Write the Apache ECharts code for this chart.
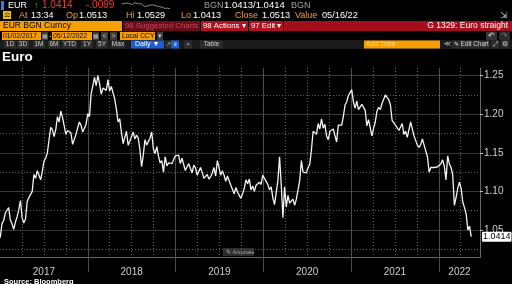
<!DOCTYPE html>
<html>
<head>
<meta charset="utf-8">
<script src="https://cdn.jsdelivr.net/npm/echarts@6/dist/echarts.min.js"></script>
<style>
html, body { margin: 0; padding: 0; background: #000; }
#main { width: 512px; height: 284px; }
</style>
</head>
<body>
<div id="main"></div>
<script>
// EUR/USD, one value per week (Mondays from 2017-01-02)
var eur2017 = [1.040, 1.058, 1.062, 1.072, 1.074, 1.079, 1.063, 1.058, 1.051, 1.060, 1.067, 1.076, 1.088,
  1.066, 1.059, 1.064, 1.087, 1.092, 1.094, 1.100, 1.122, 1.117, 1.127, 1.121, 1.115, 1.126,
  1.139, 1.143, 1.150, 1.167, 1.183, 1.180, 1.171, 1.180, 1.197, 1.190, 1.204, 1.196, 1.185,
  1.174, 1.179, 1.179, 1.176, 1.161, 1.160, 1.174, 1.173, 1.190, 1.186, 1.177, 1.182, 1.187];
var eur2018 = [1.201, 1.197, 1.226, 1.226, 1.248, 1.237, 1.250, 1.240, 1.226, 1.234, 1.234, 1.231, 1.245,
  1.230, 1.236, 1.238, 1.220, 1.207, 1.190, 1.194, 1.177, 1.162, 1.170, 1.178, 1.160, 1.165,
  1.164, 1.177, 1.168, 1.173, 1.169, 1.154, 1.132, 1.147, 1.167, 1.160, 1.160, 1.169, 1.177,
  1.155, 1.149, 1.158, 1.146, 1.137, 1.140, 1.125, 1.145, 1.133, 1.137, 1.135, 1.136, 1.141, 1.146];
var eur2019 = [1.147, 1.147, 1.136, 1.143, 1.141, 1.127, 1.132, 1.136, 1.134, 1.124, 1.134, 1.131,
  1.121, 1.126, 1.131, 1.125, 1.117, 1.119, 1.122, 1.116, 1.119, 1.124, 1.131, 1.120, 1.140,
  1.131, 1.121, 1.127, 1.121, 1.113, 1.120, 1.118, 1.108, 1.109, 1.097, 1.105, 1.099, 1.098,
  1.091, 1.097, 1.104, 1.115, 1.110, 1.116, 1.102, 1.107, 1.100, 1.108, 1.106, 1.112, 1.109, 1.121];
var eur2020 = [1.117, 1.113, 1.109, 1.102, 1.106, 1.092, 1.083, 1.085, 1.114, 1.145, 1.109, 1.066,
  1.106, 1.080, 1.095, 1.085, 1.083, 1.090, 1.082, 1.090, 1.091, 1.114, 1.140, 1.125, 1.126,
  1.124, 1.131, 1.135, 1.154, 1.178, 1.176, 1.174, 1.188, 1.181, 1.194, 1.182, 1.187, 1.172,
  1.167, 1.178, 1.180, 1.181, 1.181, 1.164, 1.186, 1.187, 1.186, 1.197, 1.212, 1.216, 1.224, 1.222];
var eur2021 = [1.232, 1.216, 1.208, 1.217, 1.206, 1.205, 1.213, 1.215, 1.205, 1.185, 1.193, 1.194,
  1.172, 1.182, 1.190, 1.204, 1.209, 1.206, 1.214, 1.215, 1.225, 1.222, 1.219, 1.212, 1.192,
  1.190, 1.186, 1.187, 1.179, 1.180, 1.188, 1.174, 1.178, 1.170, 1.180, 1.190, 1.181, 1.172,
  1.171, 1.160, 1.157, 1.161, 1.168, 1.160, 1.159, 1.145, 1.125, 1.131, 1.130, 1.131, 1.133, 1.132];
var eur2022 = [1.130, 1.136, 1.141, 1.133, 1.115, 1.146, 1.136, 1.131, 1.122, 1.082, 1.092, 1.104,
  1.112, 1.104, 1.086, 1.079, 1.071, 1.050, 1.055, 1.0414];

var yearLabels = ['2017', '2018', '2019', '2020', '2021', '2022'];
var yearLabelPos = [2017.5, 2018.5, 2019.5, 2020.5, 2021.5, 2022.236];
var yearBreaks = [2018, 2019, 2020, 2021, 2022];
var priceTicks = [1.05, 1.10, 1.15, 1.20, 1.25];
var priceMinor = [1.025, 1.075, 1.125, 1.175, 1.225];
var lastPrice = 1.0414;

var weekly = [].concat(eur2017, eur2018, eur2019, eur2020, eur2021, eur2022);
var t0 = Date.UTC(2017, 0, 2);
function decYear(ms) {
  var y = new Date(ms).getUTCFullYear();
  var s = Date.UTC(y, 0, 1), e = Date.UTC(y + 1, 0, 1);
  return y + (ms - s) / (e - s);
}
var lineData = weekly.map(function (v, i) { return [decYear(t0 + i * 7 * 864e5), v]; });

var XMIN = 2017, XMAX = 2022.47, YMIN = 1.015, YMAX = 1.26;
var ORANGE = '#f5a000', LBL = '#f0a030';
var SANS = '"Liberation Sans", Arial, sans-serif';

var gfx = [];
function box(x, y, w, h, c) {
  gfx.push({ type: 'rect', shape: { x: x, y: y, width: w, height: h }, style: { fill: c }, silent: true });
}
function txt(x, y, s, c, size, align, weight) {
  gfx.push({ type: 'text', silent: true, style: {
    x: x, y: y, text: s, fill: c, textAlign: align || 'left', verticalAlign: 'middle',
    font: (weight || 'normal') + ' ' + size + 'px ' + SANS } });
}

// row 1: quote line
box(1, 1, 3, 9, '#2f7dff');
txt(8, 5.5, 'EUR', '#fff', 9);
txt(34, 5.5, '↑', '#22c822', 9, 'left', 'bold');
txt(42, 5.5, '1.0414', '#f03a30', 10);
txt(86, 5.5, '-.0099', '#f03a30', 10);
txt(204, 5.5, 'BGN', '#a0a0a0', 9);
txt(224, 5.5, '1.0413/1.0414', '#fff', 9.5);
txt(291, 5.5, 'BGN', '#a0a0a0', 9);

// row 2: OHLC
box(3, 11, 8, 8, '#f0c20a');
txt(7, 15.5, '⚖', '#000', 7, 'center');
txt(19, 15.5, 'At', LBL, 9); txt(31, 15.5, '13:34', '#fff', 9);
txt(66, 15.5, 'Op', LBL, 9); txt(79, 15.5, '1.0513', '#fff', 9.2);
txt(126, 15.5, 'Hi', LBL, 9); txt(137, 15.5, '1.0529', '#fff', 9.2);
txt(181, 15.5, 'Lo', LBL, 9); txt(193, 15.5, '1.0413', '#fff', 9.2);
txt(235, 15.5, 'Close', LBL, 9); txt(262, 15.5, '1.0513', '#fff', 9.2);
txt(295, 15.5, 'Value', LBL, 9); txt(322, 15.5, '05/16/22', '#fff', 9.2);
txt(504, 16, '⇲', '#ccc', 9, 'center');

// row 3: security / menus
box(0, 21, 122, 10, ORANGE); txt(3, 26, 'EUR BGN Curncy', '#000', 8.5);
box(123, 21, 77, 10, '#6b0d16'); txt(125, 26, '98 Suggested Charts', '#c0485a', 7.8);
box(201, 21, 47, 10, '#b0121f'); txt(203, 26, '98 Actions ▾', '#fff', 7.8);
box(249, 21, 34, 10, '#b0121f'); txt(251, 26, '97 Edit ▾', '#fff', 7.8);
box(284, 21, 228, 10, '#a50e1c'); txt(508, 26, 'G 1329: Euro straight', '#fff', 8.5, 'right');

// row 4: date range
box(2, 32, 39, 8, ORANGE); txt(3, 36, '01/02/2017', '#000', 6.8);
box(42, 32, 6, 8, '#3a3a3a'); txt(45, 36, '▦', '#bbb', 6, 'center');
txt(49, 36, '-', '#ccc', 7);
box(52, 32, 40, 8, ORANGE); txt(53, 36, '05/12/2022', '#000', 6.8);
box(93, 32, 6, 8, '#3a3a3a'); txt(96, 36, '▦', '#bbb', 6, 'center');
box(101, 32, 7, 8, '#3a3a3a'); txt(104.5, 36, '<', '#ccc', 7, 'center');
box(110, 32, 7, 8, '#3a3a3a'); txt(113.5, 36, '>', '#ccc', 7, 'center');
box(120, 32, 35, 8, ORANGE); txt(122, 36, 'Local CCY', '#000', 6.8);
box(157, 32, 6, 8, '#3a3a3a'); txt(160, 36, '▾', '#ccc', 7, 'center');
box(486, 32, 11, 8, '#333'); txt(491.5, 36, '↶', '#ddd', 8, 'center');
box(499, 32, 11, 8, '#2a2a2a'); txt(504.5, 36, '↷', '#777', 8, 'center');

// row 5: toolbar
box(0, 40, 512, 9, '#1a1a1a');
[['1D', 4, 12], ['3D', 17, 12], ['1M', 33, 12], ['6M', 48, 12], ['YTD', 62, 15],
 ['1Y', 81, 12], ['5Y', 96, 12], ['Max', 111, 14]].forEach(function (b) {
  box(b[1], 40.5, b[2], 8, '#2c2c2c'); txt(b[1] + b[2] / 2, 44.5, b[0], '#d0d0d0', 6.5, 'center');
});
box(131, 40.5, 33, 8, '#1d5fd3'); txt(135, 44.5, 'Daily ▼', '#fff', 7);
box(165, 40.5, 6, 8, '#2c2c2c'); txt(168, 44.5, '↗', '#bbb', 6, 'center');
box(171, 40.5, 8, 8, '#1d5fd3'); txt(175, 44.5, 'ıl', '#fff', 6, 'center');
box(184, 40.5, 8, 8, '#2c2c2c'); txt(188, 44.5, '▪', '#bbb', 6, 'center');
box(200, 40.5, 23, 8, '#2c2c2c'); txt(211.5, 44.5, 'Table', '#d0d0d0', 6.5, 'center');
box(364, 40.5, 76, 8, ORANGE); txt(366, 44.5, 'Add Data', '#ffd27a', 7);
txt(447, 44.5, '≪', '#ccc', 7, 'center');
box(452, 40.5, 37, 8, '#2c2c2c'); txt(454, 44.5, '✎ Edit Chart', '#ddd', 6.3);
box(491, 40.5, 8, 8, '#2c2c2c'); txt(495, 44.5, '⤢', '#ccc', 6.5, 'center');
box(501, 40.5, 8, 8, '#2c2c2c'); txt(505, 44.5, '⚙', '#ccc', 6.5, 'center');

// title, annotate button, source
txt(2, 57.5, 'Euro', '#fff', 13.5, 'left', 'bold');
box(223, 248, 31, 8, '#2b2b2b'); txt(226, 252, '✎ Annotate', '#aaa', 5.5);
txt(4, 281.5, 'Source: Bloomberg', '#fff', 7.5, 'left', 'bold');

var hidden = { show: false };
var option = {
  backgroundColor: '#000',
  animation: false,
  grid: [
    { left: 0, right: 32, top: 68, bottom: 27, containLabel: false, outerBoundsMode: 'none' },
    { left: 122, top: 2, width: 48, height: 7, containLabel: false, outerBoundsMode: 'none' }
  ],
  xAxis: [
    { type: 'value', gridIndex: 0, min: XMIN, max: XMAX, position: 'bottom',
      axisLine: { show: true, lineStyle: { color: '#6a6a6a', width: 1 } },
      axisTick: { show: true, customValues: yearBreaks, length: 15, lineStyle: { color: '#4a4a4a' } },
      axisLabel: { customValues: yearLabelPos, margin: 10, color: '#d0d0d0', fontSize: 10, fontFamily: SANS,
        formatter: function (v) { return yearLabels[Math.floor(v) - 2017]; } },
      splitLine: { show: true, lineStyle: { color: '#444', width: 1 } } },
    { type: 'value', gridIndex: 0, min: XMIN, max: XMAX, interval: 0.25, position: 'bottom',
      axisLine: hidden, axisTick: hidden, axisLabel: hidden,
      splitLine: { show: true, showMinLine: false, showMaxLine: false,
        lineStyle: { color: '#606060', width: 1, type: [1, 2] } } },
    { type: 'value', gridIndex: 1, show: false, min: 0, max: eur2022.length - 1 }
  ],
  yAxis: [
    { type: 'value', gridIndex: 0, min: YMIN, max: YMAX, position: 'right',
      axisLine: { show: true, lineStyle: { color: '#6a6a6a', width: 1 } },
      axisTick: { show: true, customValues: priceTicks, length: 3, lineStyle: { color: '#bbb' } },
      axisLabel: { customValues: priceTicks, margin: 4, color: '#d0d0d0', fontSize: 10, fontFamily: SANS,
        formatter: function (v) { return v.toFixed(2); } },
      splitLine: { show: true, lineStyle: { color: '#3a3a3a', width: 1 } } },
    { type: 'value', gridIndex: 0, min: YMIN, max: YMAX, position: 'right',
      axisLine: hidden, axisLabel: hidden,
      axisTick: { show: false, customValues: priceMinor },
      splitLine: { show: true, lineStyle: { color: '#606060', width: 1, type: [1, 2] } } },
    { type: 'value', gridIndex: 0, min: YMIN, max: YMAX, position: 'right',
      axisLine: hidden, axisTick: hidden, splitLine: hidden,
      axisLabel: { customValues: [lastPrice], margin: 2, color: '#000', fontSize: 9, fontFamily: SANS,
        backgroundColor: '#fff', padding: [1, 1, 0, 1], borderRadius: 1,
        formatter: function (v) { return v.toFixed(4); } } },
    { type: 'value', gridIndex: 1, show: false, scale: true }
  ],
  series: [
    { type: 'line', xAxisIndex: 0, yAxisIndex: 0, data: lineData, showSymbol: false,
      lineStyle: { color: '#f4f4f4', width: 1.3 }, z: 5 },
    { type: 'line', xAxisIndex: 2, yAxisIndex: 3, data: eur2022.map(function (v, i) { return [i, v]; }),
      showSymbol: false, lineStyle: { color: '#8a8a8a', width: 1 } }
  ],
  graphic: gfx
};

var myChart = echarts.init(document.getElementById('main'));
myChart.setOption(option, true);
</script>
</body>
</html>
